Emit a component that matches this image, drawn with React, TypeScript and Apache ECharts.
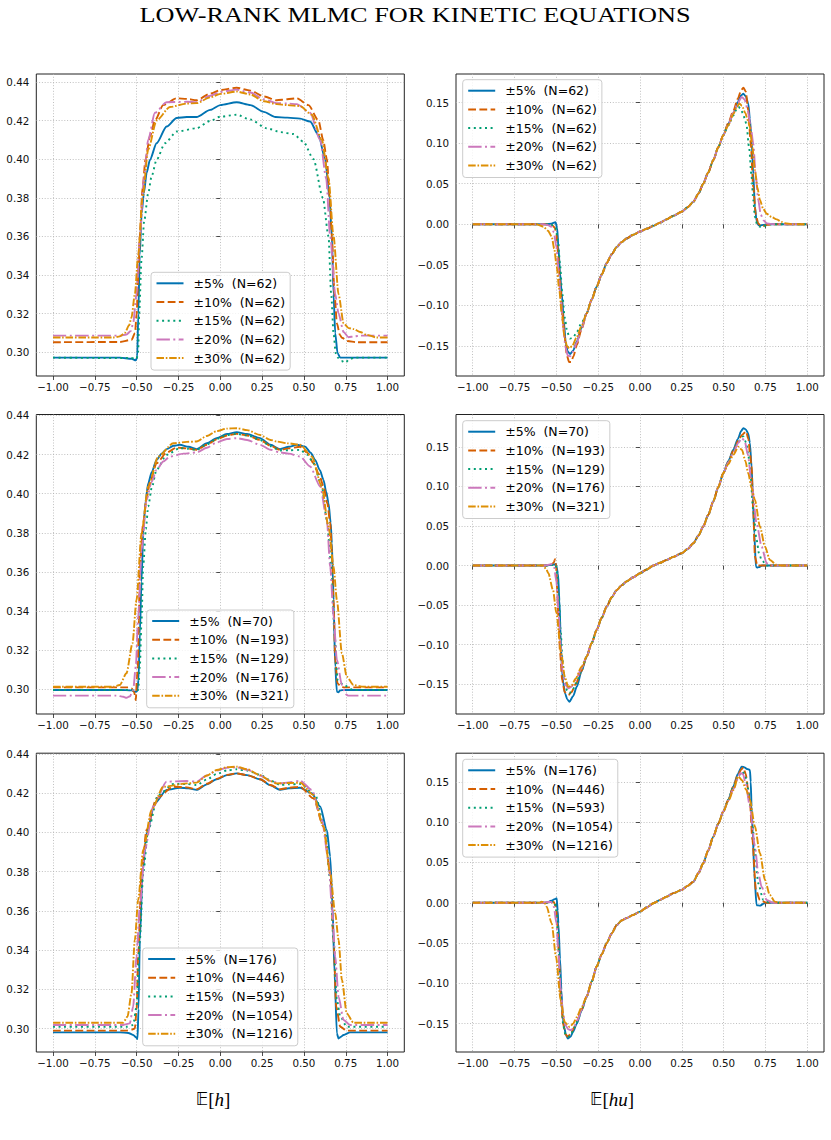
import React, { useEffect, useRef } from "react";
import * as echarts from "echarts";

type Pt = [number, number];

// Line colours and dash patterns, one per spread level
const seriesColors = ["#0173b2", "#d55e00", "#029e73", "#cc78bc", "#de8f05"];
const seriesDashes: any[] = ["solid", [7.8, 3.4], [2, 3.6], [13.4, 3.4, 2, 3.4], [7.5, 1.8, 1.6, 1.8]];

const spreadLabels = ["±5%", "±10%", "±15%", "±20%", "±30%"];
const samplesTop = [62, 62, 62, 62, 62];
const samplesMid = [70, 193, 129, 176, 321];
const samplesBottom = [176, 446, 593, 1054, 1216];

const xTicks = [-1, -0.75, -0.5, -0.25, 0, 0.25, 0.5, 0.75, 1];
const hTicks = [0.3, 0.32, 0.34, 0.36, 0.38, 0.4, 0.42, 0.44];
const huTicks = [-0.15, -0.1, -0.05, 0, 0.05, 0.1, 0.15];

// ---------- E[h], N = 62 ----------
const tlBlue: Pt[] = [[-1,0.2972],[-0.6,0.2972],[-0.53,0.2966],[-0.505,0.2958],[-0.497,0.2975],[-0.49,0.32],[-0.482,0.35],[-0.47,0.372],[-0.457,0.3823],[-0.44,0.393],[-0.421,0.3996],[-0.381,0.4082],[-0.321,0.4169],[-0.261,0.4213],[-0.2,0.4218],[-0.142,0.4218],[-0.06,0.4255],[0,0.428],[0.098,0.4295],[0.18,0.428],[0.26,0.4245],[0.33,0.4218],[0.4,0.4215],[0.477,0.421],[0.537,0.4195],[0.587,0.4125],[0.627,0.4],[0.653,0.38],[0.667,0.36],[0.677,0.33],[0.687,0.3099],[0.701,0.2995],[0.717,0.2972],[1,0.2972]];
const tlRed: Pt[] = [[-1,0.3052],[-0.6,0.3053],[-0.53,0.3065],[-0.51,0.31],[-0.5,0.32],[-0.49,0.34],[-0.481,0.36],[-0.465,0.385],[-0.447,0.4],[-0.42,0.412],[-0.391,0.42],[-0.341,0.428],[-0.261,0.4315],[-0.2,0.4312],[-0.142,0.4305],[-0.06,0.434],[0,0.4358],[0.098,0.437],[0.18,0.4355],[0.26,0.4325],[0.337,0.4305],[0.4,0.431],[0.457,0.4315],[0.527,0.428],[0.587,0.42],[0.615,0.41],[0.637,0.4],[0.655,0.38],[0.667,0.36],[0.683,0.33],[0.697,0.315],[0.715,0.309],[0.727,0.3075],[0.76,0.3058],[0.816,0.3052],[1,0.3052]];
const tlGreen: Pt[] = [[-1,0.2972],[-0.55,0.297],[-0.5,0.2968],[-0.491,0.3],[-0.485,0.32],[-0.471,0.348],[-0.455,0.368],[-0.431,0.3823],[-0.411,0.391],[-0.381,0.3996],[-0.331,0.4082],[-0.261,0.4143],[-0.142,0.416],[-0.06,0.4198],[0,0.422],[0.098,0.423],[0.18,0.4205],[0.277,0.416],[0.36,0.414],[0.437,0.413],[0.497,0.409],[0.557,0.4],[0.613,0.38],[0.647,0.36],[0.663,0.33],[0.677,0.31],[0.69,0.2995],[0.705,0.297],[0.725,0.2955],[0.747,0.2946],[0.77,0.2962],[0.8,0.2972],[1,0.2972]];
const tlPink: Pt[] = [[-1,0.3086],[-0.6,0.3086],[-0.561,0.3092],[-0.535,0.311],[-0.521,0.315],[-0.501,0.33],[-0.481,0.36],[-0.457,0.39],[-0.431,0.41],[-0.391,0.424],[-0.321,0.4295],[-0.2,0.4297],[-0.142,0.4295],[-0.06,0.4328],[0,0.4348],[0.098,0.436],[0.18,0.4345],[0.26,0.431],[0.337,0.429],[0.4,0.4288],[0.457,0.4285],[0.537,0.424],[0.597,0.41],[0.633,0.39],[0.657,0.36],[0.687,0.33],[0.707,0.32],[0.737,0.3105],[0.766,0.3078],[0.8,0.3082],[0.836,0.3086],[1,0.3086]];
const tlOrange: Pt[] = [[-1,0.3076],[-0.641,0.3076],[-0.6,0.3082],[-0.571,0.31],[-0.545,0.314],[-0.531,0.318],[-0.511,0.33],[-0.491,0.35],[-0.465,0.38],[-0.431,0.405],[-0.381,0.42],[-0.301,0.427],[-0.202,0.4288],[-0.142,0.429],[-0.06,0.432],[0,0.4338],[0.098,0.435],[0.18,0.4335],[0.26,0.43],[0.337,0.4285],[0.4,0.428],[0.477,0.4275],[0.547,0.423],[0.607,0.41],[0.647,0.39],[0.677,0.36],[0.707,0.33],[0.737,0.315],[0.767,0.3125],[0.797,0.312],[0.836,0.3105],[0.876,0.309],[0.936,0.3076],[1,0.3076]];

// ---------- E[hu], N = 62 ----------
const trCore: Pt[] = [[-0.319,-0.11],[-0.289,-0.093],[-0.259,-0.077],[-0.229,-0.062],[-0.199,-0.048],[-0.169,-0.037],[-0.139,-0.028],[-0.11,-0.022],[-0.08,-0.0175],[-0.04,-0.013],[0,-0.009],[0.04,-0.0055],[0.08,-0.002],[0.12,0.002],[0.159,0.006],[0.2,0.0105],[0.249,0.0155],[0.285,0.021],[0.319,0.0278],[0.35,0.038],[0.378,0.05],[0.408,0.064],[0.438,0.079],[0.468,0.095],[0.498,0.11]];
const trBlueL: Pt[] = [[-1,0],[-0.56,0],[-0.53,0.0008],[-0.505,0.0025],[-0.495,-0.005],[-0.488,-0.028],[-0.478,-0.06],[-0.468,-0.085],[-0.455,-0.12],[-0.444,-0.147],[-0.432,-0.157],[-0.418,-0.16],[-0.4,-0.156],[-0.378,-0.145],[-0.35,-0.128]];
const trBlueR: Pt[] = [[0.528,0.124],[0.558,0.137],[0.585,0.151],[0.604,0.159],[0.618,0.161],[0.632,0.158],[0.647,0.149],[0.657,0.13],[0.667,0.104],[0.677,0.062],[0.687,0.022],[0.697,0.004],[0.707,-0.001],[0.72,-0.0015],[0.737,-0.0008],[0.76,0],[1,0]];
const trRedL: Pt[] = [[-1,0],[-0.55,0],[-0.525,-0.001],[-0.51,-0.004],[-0.5,-0.012],[-0.49,-0.035],[-0.478,-0.07],[-0.465,-0.105],[-0.45,-0.14],[-0.437,-0.162],[-0.424,-0.17],[-0.412,-0.17],[-0.398,-0.163],[-0.378,-0.149],[-0.35,-0.13]];
const trRedR: Pt[] = [[0.528,0.125],[0.558,0.14],[0.585,0.155],[0.604,0.165],[0.618,0.1685],[0.632,0.164],[0.647,0.141],[0.662,0.1],[0.677,0.046],[0.692,0.012],[0.707,0.001],[0.722,-0.002],[0.737,-0.002],[0.76,-0.0005],[0.8,0],[1,0]];
const trGreenL: Pt[] = [[-1,0],[-0.55,0],[-0.52,-0.001],[-0.505,-0.004],[-0.49,-0.02],[-0.478,-0.05],[-0.465,-0.085],[-0.45,-0.115],[-0.435,-0.133],[-0.418,-0.141],[-0.4,-0.14],[-0.378,-0.133],[-0.35,-0.122]];
const trGreenR: Pt[] = [[0.528,0.122],[0.558,0.134],[0.575,0.141],[0.588,0.145],[0.6,0.143],[0.615,0.137],[0.627,0.13],[0.637,0.122],[0.652,0.095],[0.667,0.059],[0.677,0.03],[0.687,0.009],[0.7,0],[0.717,-0.003],[0.737,-0.003],[0.757,-0.001],[0.78,0],[1,0]];
const trPinkL: Pt[] = [[-1,0],[-0.58,0],[-0.55,-0.001],[-0.53,-0.003],[-0.515,-0.01],[-0.5,-0.028],[-0.488,-0.055],[-0.475,-0.09],[-0.46,-0.125],[-0.445,-0.152],[-0.432,-0.162],[-0.418,-0.163],[-0.4,-0.157],[-0.378,-0.146],[-0.35,-0.129]];
const trPinkR: Pt[] = [[0.528,0.123],[0.558,0.138],[0.585,0.15],[0.608,0.157],[0.625,0.154],[0.645,0.14],[0.662,0.12],[0.677,0.1],[0.692,0.06],[0.707,0.03],[0.722,0.012],[0.737,0.005],[0.76,0.001],[0.8,0],[1,0]];
const trOrangeL: Pt[] = [[-1,0],[-0.62,0],[-0.578,-0.003],[-0.55,-0.008],[-0.528,-0.015],[-0.513,-0.03],[-0.498,-0.052],[-0.483,-0.08],[-0.468,-0.11],[-0.452,-0.138],[-0.437,-0.15],[-0.422,-0.153],[-0.405,-0.15],[-0.38,-0.14],[-0.35,-0.126]];
const trOrangeR: Pt[] = [[0.528,0.122],[0.558,0.136],[0.58,0.145],[0.594,0.149],[0.61,0.146],[0.63,0.137],[0.645,0.128],[0.657,0.12],[0.672,0.095],[0.687,0.067],[0.702,0.045],[0.717,0.03],[0.737,0.019],[0.757,0.013],[0.787,0.009],[0.817,0.006],[0.846,0.003],[0.876,0.001],[0.92,0],[1,0]];

// ---------- E[h], second level ----------
const mlBlue: Pt[] = [[-1,0.2997],[-0.6,0.2997],[-0.53,0.2995],[-0.51,0.2988],[-0.497,0.299],[-0.489,0.305],[-0.481,0.3286],[-0.471,0.355],[-0.461,0.3798],[-0.447,0.396],[-0.431,0.4054],[-0.41,0.411],[-0.381,0.4173],[-0.351,0.4205],[-0.321,0.4228],[-0.28,0.4245],[-0.242,0.425],[-0.19,0.424],[-0.142,0.4228],[-0.08,0.4258],[-0.022,0.4284],[0.04,0.4305],[0.098,0.4315],[0.16,0.4305],[0.238,0.4284],[0.3,0.425],[0.357,0.4228],[0.41,0.424],[0.457,0.425],[0.507,0.4241],[0.54,0.421],[0.567,0.4173],[0.595,0.412],[0.617,0.4071],[0.633,0.401],[0.647,0.3952],[0.66,0.385],[0.667,0.3747],[0.672,0.36],[0.677,0.3457],[0.687,0.3116],[0.697,0.2988],[0.705,0.2985],[0.717,0.2995],[0.74,0.2997],[1,0.2997]];
const mlRed: Pt[] = [[-1,0.301],[-0.55,0.301],[-0.53,0.3005],[-0.515,0.2985],[-0.505,0.2945],[-0.499,0.305],[-0.493,0.3116],[-0.487,0.335],[-0.481,0.3628],[-0.461,0.385],[-0.44,0.398],[-0.42,0.406],[-0.381,0.4156],[-0.321,0.421],[-0.261,0.4236],[-0.2,0.4232],[-0.142,0.4224],[-0.08,0.425],[-0.022,0.4278],[0.04,0.4298],[0.098,0.4306],[0.16,0.4298],[0.238,0.4275],[0.3,0.4245],[0.357,0.4224],[0.41,0.4232],[0.477,0.424],[0.52,0.421],[0.557,0.4156],[0.59,0.41],[0.617,0.4037],[0.64,0.395],[0.657,0.385],[0.667,0.37],[0.677,0.3457],[0.687,0.315],[0.701,0.303],[0.72,0.3015],[0.737,0.301],[1,0.301]];
const mlGreen: Pt[] = [[-1,0.2997],[-0.55,0.2997],[-0.491,0.2997],[-0.481,0.3116],[-0.471,0.335],[-0.461,0.3627],[-0.445,0.382],[-0.431,0.3934],[-0.41,0.403],[-0.381,0.4122],[-0.321,0.4199],[-0.242,0.4233],[-0.19,0.423],[-0.142,0.4224],[-0.08,0.4252],[-0.022,0.428],[0.04,0.43],[0.098,0.4306],[0.16,0.4298],[0.238,0.4275],[0.3,0.4243],[0.357,0.4221],[0.41,0.4222],[0.477,0.4224],[0.52,0.42],[0.557,0.4156],[0.607,0.4037],[0.637,0.3866],[0.663,0.3627],[0.683,0.3286],[0.701,0.3048],[0.737,0.3022],[0.796,0.2997],[1,0.2997]];
const mlPink: Pt[] = [[-1,0.2968],[-0.62,0.2968],[-0.58,0.2962],[-0.561,0.2957],[-0.54,0.2965],[-0.521,0.2997],[-0.505,0.3116],[-0.491,0.3372],[-0.471,0.3713],[-0.441,0.3969],[-0.411,0.406],[-0.381,0.4122],[-0.341,0.4165],[-0.301,0.419],[-0.22,0.4205],[-0.142,0.4211],[-0.08,0.4235],[-0.022,0.4262],[0.04,0.428],[0.098,0.4284],[0.16,0.4275],[0.238,0.425],[0.3,0.4225],[0.357,0.4211],[0.41,0.4205],[0.477,0.419],[0.537,0.4139],[0.597,0.4037],[0.637,0.3866],[0.657,0.3627],[0.677,0.3372],[0.697,0.315],[0.727,0.3022],[0.75,0.2975],[0.766,0.2968],[1,0.2968]];
const mlOrange: Pt[] = [[-1,0.3013],[-0.64,0.3013],[-0.601,0.3022],[-0.561,0.3082],[-0.525,0.3235],[-0.501,0.3457],[-0.471,0.3798],[-0.431,0.4037],[-0.371,0.419],[-0.281,0.4258],[-0.2,0.4265],[-0.142,0.4267],[-0.08,0.4295],[-0.022,0.432],[0.04,0.4333],[0.098,0.4335],[0.16,0.4325],[0.238,0.43],[0.3,0.4275],[0.337,0.4267],[0.4,0.4258],[0.477,0.425],[0.547,0.419],[0.607,0.4037],[0.647,0.3832],[0.677,0.3627],[0.697,0.3457],[0.727,0.3184],[0.756,0.3065],[0.796,0.3022],[0.856,0.3013],[1,0.3013]];

// ---------- E[hu], second level ----------
const mrCore: Pt[] = [[-0.319,-0.115],[-0.289,-0.098],[-0.259,-0.0813],[-0.229,-0.066],[-0.199,-0.0518],[-0.169,-0.04],[-0.139,-0.031],[-0.11,-0.025],[-0.08,-0.02],[-0.04,-0.0148],[0,-0.0097],[0.04,-0.005],[0.08,0],[0.12,0.0035],[0.159,0.007],[0.2,0.011],[0.249,0.0156],[0.285,0.021],[0.319,0.0282],[0.35,0.038],[0.378,0.0493],[0.408,0.064],[0.438,0.081],[0.468,0.099],[0.498,0.1167]];
const mrBlueL: Pt[] = [[-1,0],[-0.56,0],[-0.52,0.001],[-0.503,0.002],[-0.49,-0.01],[-0.482,-0.0434],[-0.475,-0.085],[-0.468,-0.1277],[-0.458,-0.15],[-0.448,-0.1614],[-0.435,-0.169],[-0.422,-0.172],[-0.4,-0.165],[-0.378,-0.153],[-0.35,-0.134]];
const mrBlueR: Pt[] = [[0.528,0.132],[0.558,0.1462],[0.585,0.16],[0.605,0.17],[0.618,0.1736],[0.632,0.172],[0.647,0.167],[0.657,0.155],[0.667,0.1251],[0.675,0.085],[0.683,0.0409],[0.693,-0.0013],[0.7,-0.0025],[0.71,-0.002],[0.73,0],[1,0]];
const mrRedL: Pt[] = [[-1,0],[-0.56,0],[-0.53,0.001],[-0.515,0.004],[-0.508,0.008],[-0.502,0.002],[-0.495,-0.03],[-0.487,-0.07],[-0.478,-0.11],[-0.465,-0.145],[-0.45,-0.16],[-0.428,-0.1635],[-0.41,-0.16],[-0.385,-0.15],[-0.35,-0.133]];
const mrRedR: Pt[] = [[0.528,0.131],[0.558,0.145],[0.588,0.158],[0.61,0.165],[0.634,0.1694],[0.648,0.16],[0.658,0.14],[0.667,0.1251],[0.677,0.07],[0.687,0.0114],[0.701,0],[1,0]];
const mrGreenL: Pt[] = [[-1,0],[-0.55,0],[-0.52,0.001],[-0.505,0.001],[-0.495,-0.01],[-0.485,-0.04],[-0.475,-0.08],[-0.463,-0.12],[-0.45,-0.148],[-0.435,-0.158],[-0.422,-0.161],[-0.405,-0.158],[-0.38,-0.148],[-0.35,-0.132]];
const mrGreenR: Pt[] = [[0.528,0.131],[0.558,0.145],[0.588,0.157],[0.618,0.163],[0.635,0.155],[0.647,0.14],[0.657,0.1251],[0.677,0.07],[0.697,0.0324],[0.712,0.015],[0.727,0.007],[0.757,0],[1,0]];
const mrPinkL: Pt[] = [[-1,0],[-0.57,0],[-0.545,0.001],[-0.53,0.002],[-0.515,0],[-0.5,-0.02],[-0.488,-0.055],[-0.475,-0.1],[-0.462,-0.135],[-0.448,-0.15],[-0.428,-0.155],[-0.41,-0.153],[-0.385,-0.145],[-0.35,-0.13]];
const mrPinkR: Pt[] = [[0.528,0.13],[0.558,0.143],[0.588,0.155],[0.608,0.161],[0.625,0.158],[0.645,0.14],[0.667,0.104],[0.697,0.0535],[0.727,0.024],[0.757,0.003],[0.796,0],[1,0]];
const mrOrangeL: Pt[] = [[-1,0],[-0.6,0],[-0.578,0],[-0.56,-0.005],[-0.548,-0.0097],[-0.52,-0.031],[-0.5,-0.06],[-0.471,-0.111],[-0.45,-0.14],[-0.43,-0.153],[-0.41,-0.152],[-0.385,-0.143],[-0.35,-0.128]];
const mrOrangeR: Pt[] = [[0.528,0.128],[0.558,0.14],[0.588,0.15],[0.61,0.146],[0.63,0.132],[0.647,0.1167],[0.667,0.098],[0.687,0.083],[0.717,0.0493],[0.747,0.024],[0.777,0.007],[0.817,0.0008],[0.85,0],[1,0]];

// ---------- E[h], third level ----------
const blBlue: Pt[] = [[-1,0.2981],[-0.6,0.2981],[-0.55,0.2978],[-0.521,0.2968],[-0.503,0.2955],[-0.495,0.2947],[-0.489,0.31],[-0.481,0.3452],[-0.465,0.3792],[-0.441,0.3996],[-0.391,0.4149],[-0.321,0.4217],[-0.242,0.4228],[-0.19,0.4225],[-0.142,0.4217],[-0.08,0.4245],[-0.022,0.4271],[0.04,0.4292],[0.098,0.4301],[0.16,0.4292],[0.238,0.4271],[0.3,0.424],[0.357,0.4217],[0.41,0.4225],[0.477,0.4228],[0.547,0.42],[0.597,0.4132],[0.637,0.4013],[0.657,0.3877],[0.671,0.3622],[0.683,0.3282],[0.697,0.2976],[0.707,0.295],[0.72,0.2958],[0.737,0.2968],[0.776,0.2981],[1,0.2981]];
const blRed: Pt[] = [[-1,0.299],[-0.56,0.299],[-0.53,0.2995],[-0.511,0.3001],[-0.5,0.31],[-0.491,0.3375],[-0.471,0.3792],[-0.441,0.4013],[-0.381,0.4174],[-0.281,0.4233],[-0.2,0.423],[-0.142,0.422],[-0.08,0.4248],[-0.022,0.4273],[0.04,0.4293],[0.098,0.4301],[0.16,0.4292],[0.238,0.4271],[0.3,0.4242],[0.357,0.422],[0.41,0.4228],[0.477,0.4233],[0.557,0.4174],[0.617,0.403],[0.657,0.3792],[0.677,0.3452],[0.693,0.3112],[0.717,0.301],[0.756,0.299],[1,0.299]];
const blGreen: Pt[] = [[-1,0.301],[-0.56,0.301],[-0.521,0.3019],[-0.501,0.3112],[-0.481,0.3452],[-0.461,0.3792],[-0.431,0.4013],[-0.371,0.4191],[-0.281,0.4247],[-0.2,0.4247],[-0.142,0.4242],[-0.08,0.427],[-0.022,0.4298],[0.04,0.4316],[0.098,0.4322],[0.16,0.4315],[0.238,0.4294],[0.3,0.4265],[0.357,0.4242],[0.41,0.4245],[0.477,0.4247],[0.567,0.4191],[0.627,0.4013],[0.657,0.3758],[0.677,0.3452],[0.697,0.3146],[0.717,0.3062],[0.756,0.301],[1,0.301]];
const blPink: Pt[] = [[-1,0.3019],[-0.58,0.3019],[-0.541,0.3027],[-0.521,0.3112],[-0.501,0.3367],[-0.481,0.3622],[-0.451,0.3911],[-0.401,0.4132],[-0.321,0.4259],[-0.2,0.4262],[-0.142,0.4259],[-0.08,0.429],[-0.022,0.4315],[0.04,0.433],[0.098,0.4332],[0.16,0.432],[0.238,0.429],[0.3,0.4262],[0.357,0.425],[0.41,0.4255],[0.477,0.4264],[0.547,0.4217],[0.607,0.4064],[0.647,0.386],[0.667,0.3622],[0.687,0.3367],[0.707,0.3163],[0.737,0.3044],[0.776,0.3019],[1,0.3019]];
const blOrange: Pt[] = [[-1,0.303],[-0.581,0.303],[-0.555,0.3061],[-0.531,0.318],[-0.511,0.3452],[-0.491,0.3656],[-0.461,0.3911],[-0.411,0.4115],[-0.341,0.4233],[-0.2,0.425],[-0.142,0.4254],[-0.08,0.429],[-0.022,0.4318],[0.04,0.4333],[0.098,0.4335],[0.16,0.4322],[0.238,0.4292],[0.3,0.4262],[0.337,0.425],[0.41,0.4252],[0.477,0.4254],[0.557,0.4191],[0.617,0.403],[0.657,0.3792],[0.687,0.3588],[0.707,0.3452],[0.727,0.3248],[0.756,0.3078],[0.796,0.303],[1,0.303]];

// ---------- E[hu], third level ----------
const brCore: Pt[] = [[-0.319,-0.1165],[-0.289,-0.098],[-0.259,-0.079],[-0.229,-0.064],[-0.199,-0.05],[-0.169,-0.038],[-0.139,-0.0275],[-0.11,-0.022],[-0.08,-0.019],[-0.04,-0.015],[0,-0.011],[0.04,-0.0058],[0.08,-0.0006],[0.12,0.0035],[0.159,0.0076],[0.2,0.012],[0.249,0.016],[0.285,0.021],[0.319,0.0262],[0.35,0.037],[0.378,0.049],[0.408,0.065],[0.438,0.082],[0.468,0.098],[0.498,0.1132]];
const brBlueL: Pt[] = [[-1,0],[-0.56,0],[-0.53,0.0025],[-0.51,0.0045],[-0.498,0.0056],[-0.492,-0.01],[-0.488,-0.0255],[-0.478,-0.07],[-0.47,-0.108],[-0.462,-0.14],[-0.454,-0.154],[-0.442,-0.164],[-0.432,-0.1685],[-0.415,-0.166],[-0.4,-0.16],[-0.378,-0.15],[-0.35,-0.134]];
const brBlueR: Pt[] = [[0.528,0.128],[0.558,0.1442],[0.585,0.16],[0.608,0.169],[0.625,0.168],[0.64,0.166],[0.657,0.1649],[0.662,0.15],[0.667,0.1194],[0.675,0.08],[0.683,0.0366],[0.697,-0.003],[0.717,-0.0035],[0.74,-0.001],[0.757,0],[1,0]];
const brRedL: Pt[] = [[-1,0],[-0.56,0],[-0.53,0.0005],[-0.515,0.001],[-0.503,-0.005],[-0.493,-0.03],[-0.483,-0.075],[-0.473,-0.12],[-0.46,-0.15],[-0.446,-0.163],[-0.432,-0.166],[-0.415,-0.163],[-0.395,-0.155],[-0.375,-0.146],[-0.35,-0.133]];
const brRedR: Pt[] = [[0.528,0.128],[0.558,0.144],[0.588,0.16],[0.608,0.166],[0.618,0.1678],[0.632,0.16],[0.647,0.14],[0.657,0.125],[0.672,0.078],[0.693,0.016],[0.717,0.0035],[0.756,0],[1,0]];
const brGreenL: Pt[] = [[-1,0],[-0.56,0],[-0.53,0.001],[-0.51,0.001],[-0.5,-0.01],[-0.49,-0.04],[-0.48,-0.085],[-0.47,-0.125],[-0.458,-0.153],[-0.445,-0.164],[-0.428,-0.166],[-0.41,-0.162],[-0.39,-0.154],[-0.37,-0.145],[-0.35,-0.133]];
const brGreenR: Pt[] = [[0.528,0.128],[0.558,0.143],[0.588,0.157],[0.608,0.1628],[0.625,0.16],[0.64,0.148],[0.657,0.1277],[0.667,0.11],[0.687,0.0656],[0.707,0.024],[0.737,0.0035],[0.776,0],[1,0]];
const brPinkL: Pt[] = [[-1,0],[-0.58,0],[-0.55,0.001],[-0.53,0.001],[-0.515,-0.005],[-0.5,-0.025],[-0.488,-0.06],[-0.475,-0.105],[-0.46,-0.138],[-0.445,-0.152],[-0.428,-0.157],[-0.412,-0.158],[-0.395,-0.154],[-0.375,-0.146],[-0.35,-0.133]];
const brPinkR: Pt[] = [[0.528,0.127],[0.558,0.141],[0.588,0.155],[0.598,0.1608],[0.615,0.16],[0.63,0.15],[0.657,0.1194],[0.687,0.07],[0.707,0.0366],[0.727,0.02],[0.757,0.0035],[0.796,0],[1,0]];
const brOrangeL: Pt[] = [[-1,0],[-0.6,0],[-0.588,0.0015],[-0.57,0],[-0.558,-0.0048],[-0.528,-0.0255],[-0.502,-0.067],[-0.474,-0.121],[-0.45,-0.148],[-0.42,-0.154],[-0.4,-0.15],[-0.378,-0.142],[-0.35,-0.13]];
const brOrangeR: Pt[] = [[0.528,0.126],[0.558,0.14],[0.588,0.1566],[0.61,0.152],[0.635,0.14],[0.657,0.1277],[0.687,0.0946],[0.717,0.0615],[0.747,0.0284],[0.776,0.0097],[0.806,0.0015],[0.836,0],[1,0]];

const join = (l: Pt[], core: Pt[], r: Pt[]): Pt[] => [...l, ...core, ...r];

const panels = [
  {
    grid: { left: 36.3, top: 74, width: 368, height: 302 },
    yRange: [0.2877, 0.4441], ticks: hTicks, samples: samplesTop, legendAt: [151, 272.3],
    lines: [tlBlue, tlRed, tlGreen, tlPink, tlOrange],
  },
  {
    grid: { left: 456, top: 74, width: 368, height: 302 },
    yRange: [-0.1872, 0.1854], ticks: huTicks, samples: samplesTop, legendAt: [462.7, 79.7],
    lines: [join(trBlueL, trCore, trBlueR), join(trRedL, trCore, trRedR), join(trGreenL, trCore, trGreenR), join(trPinkL, trCore, trPinkR), join(trOrangeL, trCore, trOrangeR)],
  },
  {
    grid: { left: 36.3, top: 414.5, width: 368, height: 299.5 },
    yRange: [0.2874, 0.4405], ticks: hTicks, samples: samplesMid, legendAt: [146.7, 610],
    lines: [mlBlue, mlRed, mlGreen, mlPink, mlOrange],
  },
  {
    grid: { left: 456, top: 414.5, width: 368, height: 299.5 },
    yRange: [-0.1875, 0.1908], ticks: huTicks, samples: samplesMid, legendAt: [462.7, 420.7],
    lines: [join(mrBlueL, mrCore, mrBlueR), join(mrRedL, mrCore, mrRedR), join(mrGreenL, mrCore, mrGreenR), join(mrPinkL, mrCore, mrPinkR), join(mrOrangeL, mrCore, mrOrangeR)],
  },
  {
    grid: { left: 36.3, top: 753.2, width: 368, height: 298.8 },
    yRange: [0.2881, 0.4404], ticks: hTicks, samples: samplesBottom, legendAt: [142.7, 948],
    lines: [blBlue, blRed, blGreen, blPink, blOrange],
  },
  {
    grid: { left: 456, top: 753.2, width: 368, height: 298.8 },
    yRange: [-0.1851, 0.1856], ticks: huTicks, samples: samplesBottom, legendAt: [462.7, 759.3],
    lines: [join(brBlueL, brCore, brBlueR), join(brRedL, brCore, brRedR), join(brGreenL, brCore, brGreenR), join(brPinkL, brCore, brPinkR), join(brOrangeL, brCore, brOrangeR)],
  },
];

const tickFont = { fontFamily: "DejaVu Sans", fontSize: 10.3, color: "#111" };
const fmt = (v: number) => v.toFixed(2).replace("-", "\u2212");
const seriesName = (k: number, samples: number[]) => `${spreadLabels[k]}  (N=${samples[k]})`;

function buildOption(): echarts.EChartsOption {
  const gridLine = { show: true, lineStyle: { color: "#b0b0b0", width: 0.8, type: [1, 1.8] as any } };
  const tick = { show: true, inside: false, length: 4, lineStyle: { color: "#222", width: 0.8 } };
  return {
    animation: false,
    backgroundColor: "#ffffff",
    grid: panels.map((p) => ({
      ...p.grid,
      show: true,
      borderColor: "#222",
      borderWidth: 1,
      backgroundColor: "transparent",
      containLabel: false,
      outerBoundsMode: "none",
    })) as any,
    xAxis: panels.map((_, i) => ({
      type: "value",
      gridIndex: i,
      min: -1.1,
      max: 1.1,
      axisLine: { show: false },
      axisTick: { ...tick, customValues: xTicks },
      axisLabel: { ...tickFont, margin: 6, formatter: fmt, customValues: xTicks },
      splitLine: { ...gridLine, customValues: xTicks },
    })) as any,
    yAxis: panels.map((p, i) => ({
      type: "value",
      gridIndex: i,
      min: p.yRange[0],
      max: p.yRange[1],
      axisLine: { show: false },
      axisTick: { ...tick, customValues: p.ticks },
      axisLabel: { ...tickFont, margin: 7, formatter: fmt, customValues: p.ticks },
      splitLine: { ...gridLine, customValues: p.ticks },
    })) as any,
    legend: panels.map((p) => ({
      left: p.legendAt[0],
      top: p.legendAt[1],
      orient: "vertical",
      data: spreadLabels.map((_, k) => seriesName(k, p.samples)),
      itemWidth: 27,
      itemHeight: 14,
      itemGap: 4.7,
      padding: [4, 5, 5, 4.5],
      backgroundColor: "rgba(255,255,255,0.8)",
      borderColor: "#cccccc",
      borderWidth: 1,
      borderRadius: 3,
      selectedMode: false,
      itemStyle: { opacity: 0 },
      textStyle: { fontFamily: "DejaVu Sans", fontSize: 12.5, color: "#000", lineHeight: 14, padding: [0, 0, 0, 5] },
    })) as any,
    series: panels.flatMap((p, i) =>
      p.lines.map((d, k) => ({
        type: "line",
        name: seriesName(k, p.samples),
        xAxisIndex: i,
        yAxisIndex: i,
        data: d,
        symbol: "none",
        showSymbol: false,
        smooth: 0.25,
        smoothMonotone: "x",
        silent: true,
        lineStyle: { color: seriesColors[k], width: 1.9, type: seriesDashes[k], cap: "butt" },
        itemStyle: { color: seriesColors[k] },
      }))
    ) as any,
    graphic: [
      {
        type: "text",
        x: 415,
        y: 15,
        scaleX: 1.25,
        style: {
          text: "LOW-RANK MLMC FOR KINETIC EQUATIONS",
          fontFamily: "Liberation Serif",
          fontSize: 21,
          fill: "#000",
          align: "center",
          verticalAlign: "middle",
        },
      },
      ...[
        { x: 213, t: "{e|𝔼}{b|[}{i|h}{b|]}" },
        { x: 612, t: "{e|𝔼}{b|[}{i|hu}{b|]}" },
      ].map((lbl) => ({
        type: "text",
        x: lbl.x,
        y: 1099,
        style: {
          text: lbl.t,
          align: "center",
          verticalAlign: "middle",
          fill: "#000",
          rich: {
            e: { fontFamily: "DejaVu Sans", fontSize: 17, fill: "#000" },
            b: { fontFamily: "Liberation Serif", fontSize: 19, fill: "#000" },
            i: { fontFamily: "Liberation Serif", fontSize: 19, fontStyle: "italic", fill: "#000" },
          },
        },
      })),
    ] as any,
  };
}

export default function App() {
  const ref = useRef<HTMLDivElement>(null);
  useEffect(() => {
    if (!ref.current) return;
    const chart = echarts.init(ref.current, undefined, { renderer: "svg" });
    chart.setOption(buildOption());
    return () => chart.dispose();
  }, []);
  return <div ref={ref} style={{ position: "absolute", left: 0, top: 0, width: 831, height: 1140, background: "#fff" }} />;
}
